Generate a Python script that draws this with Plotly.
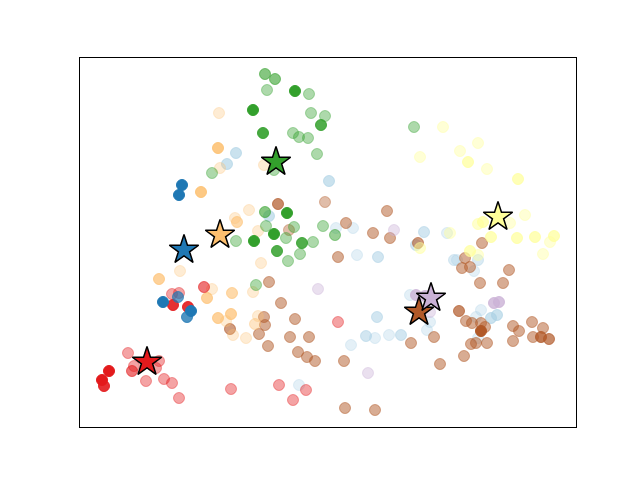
import plotly.graph_objects as go

# pixel-space data (x right, y down), per cluster: x, y, alpha
blue_x = [182, 179, 163, 178, 191, 187]
blue_y = [185, 195, 302, 297, 311, 317]
blue_a = [1, 1, 1, 0.7, 1, 0.8]

lblue_x = [236, 227, 329, 269, 336, 353, 424, 447, 416, 357, 378, 454, 457, 478, 474, 410, 481, 476, 491, 497, 478, 430, 427, 377, 366, 375, 389, 401, 351, 299]
lblue_y = [153, 164, 181, 216, 228, 228, 232, 233, 245, 255, 257, 260, 260, 260, 271, 295, 310, 317, 318, 315, 338, 322, 330, 317, 336, 338, 335, 335, 345, 385]
lblue_a = [0.6, 0.6, 0.6, 0.6, 0.3, 0.3, 0.5, 0.3, 0.5, 0.3, 0.5, 0.4, 0.3, 0.4, 0.3, 0.3, 0.3, 0.3, 0.6, 0.6, 0.3, 0.3, 0.3, 0.5, 0.5, 0.3, 0.3, 0.5, 0.3, 0.3]

green_x = [265, 275, 267, 295, 309, 253, 311, 325, 321, 263, 293, 299, 308, 317, 212, 274, 414, 265, 287, 266, 294, 323, 274, 236, 254, 286, 302, 313, 277, 300, 288, 256, 335]
green_y = [74, 79, 90, 91, 94, 110, 113, 116, 125, 133, 133, 137, 138, 154, 173, 170, 127, 212, 213, 226, 227, 226, 234, 241, 241, 238, 243, 242, 251, 254, 261, 285, 235]
green_a = [0.6, 0.6, 0.4, 1, 0.4, 1, 0.4, 0.4, 0.85, 0.9, 0.4, 0.4, 0.4, 0.4, 0.4, 0.4, 0.4, 0.6, 1, 0.4, 0.4, 0.4, 1, 0.4, 1, 0.4, 0.85, 0.4, 0.85, 0.4, 0.4, 0.4, 0.5]

red_x = [204, 172, 179, 173, 188, 128, 159, 134, 132, 156, 109, 102, 104, 146, 164, 172, 179, 338, 231, 279, 306, 293]
red_y = [287, 294, 293, 305, 307, 353, 361, 366, 371, 368, 371, 380, 386, 381, 379, 383, 398, 322, 389, 385, 390, 400]
red_a = [0.6, 0.4, 0.4, 0.9, 0.9, 0.4, 0.4, 0.4, 0.6, 0.4, 1, 1, 0.9, 0.4, 0.4, 0.4, 0.4, 0.4, 0.4, 0.4, 0.4, 0.4]

lorange_x = [219, 218, 220, 264, 201, 180, 159, 207, 212, 232, 253, 249, 235, 237, 258, 261, 218, 231, 226, 258, 255, 233, 246]
lorange_y = [113, 148, 168, 165, 192, 271, 279, 298, 289, 293, 292, 210, 218, 222, 231, 263, 318, 314, 321, 316, 324, 335, 338]
lorange_a = [0.3, 0.85, 0.3, 0.3, 0.85, 0.3, 0.7, 0.7, 0.3, 0.6, 0.3, 0.3, 0.3, 0.6, 0.3, 0.3, 0.7, 0.7, 0.3, 0.3, 0.4, 0.3, 0.3]

brown_x = [278, 325, 289, 269, 281, 264, 265, 295, 230, 259, 268, 290, 309, 298, 307, 315, 387, 346, 373, 390, 418, 338, 411, 434, 344, 440, 345, 375, 482, 465, 462, 470, 509, 480, 503, 459, 466, 472, 481, 485, 481, 471, 476, 487, 464, 513, 519, 513, 532, 543, 533, 541, 549]
brown_y = [204, 202, 230, 282, 303, 317, 325, 319, 329, 334, 346, 337, 337, 352, 357, 361, 211, 223, 233, 238, 243, 257, 343, 337, 361, 364, 408, 410, 243, 258, 268, 267, 270, 283, 283, 311, 321, 323, 323, 327, 331, 344, 343, 343, 356, 326, 331, 341, 322, 328, 337, 337, 339]
brown_a = [0.7, 0.4, 0.4, 0.5, 0.5, 0.5, 0.5, 0.5, 0.6, 0.5, 0.5, 0.5, 0.5, 0.5, 0.5, 0.5, 0.5, 0.5, 0.5, 0.5, 0.6, 0.5, 0.5, 0.5, 0.5, 0.5, 0.5, 0.5, 0.5, 0.5, 0.5, 0.5, 0.5, 0.5, 0.5, 0.7, 0.5, 0.5, 0.5, 0.5, 1, 0.5, 0.5, 0.5, 0.5, 0.5, 0.5, 0.5, 0.5, 0.5, 0.5, 0.8, 0.7]

yellow_x = [443, 420, 460, 478, 468, 487, 518, 478, 483, 510, 525, 450, 491, 517, 535, 554, 550, 543, 470, 478, 420]
yellow_y = [127, 157, 151, 143, 162, 169, 179, 224, 222, 223, 215, 233, 237, 238, 237, 236, 242, 254, 251, 255, 248]
yellow_a = [0.4, 0.4, 0.4, 0.4, 0.7, 0.4, 0.7, 0.5, 0.7, 0.4, 0.4, 0.4, 0.7, 0.7, 0.7, 0.7, 0.4, 0.4, 0.7, 0.4, 0.5]

lpurple_x = [394, 318, 368, 416, 425, 494, 499, 430]
lpurple_y = [230, 289, 373, 295, 296, 303, 302, 312]
lpurple_a = [0.4, 0.4, 0.4, 0.8, 0.8, 0.8, 0.8, 0.4]

# cluster centres
center_names = ["blue", "lorange", "green", "red", "yellow", "brown", "lpurple"]
center_x = [184, 220, 276, 147, 498, 419, 431]
center_y = [250, 235, 162, 362, 217, 312, 298]

colors = {
    "blue": (31, 120, 180),
    "lblue": (166, 206, 227),
    "green": (51, 160, 44),
    "red": (227, 26, 28),
    "lorange": (253, 191, 111),
    "brown": (177, 89, 40),
    "yellow": (255, 255, 153),
    "lpurple": (202, 178, 214),
}

def rgba(c, a):
    return f"rgba({c[0]},{c[1]},{c[2]},{a})"

fig = go.Figure()
series = [
    ("lblue", lblue_x, lblue_y, lblue_a),
    ("brown", brown_x, brown_y, brown_a),
    ("yellow", yellow_x, yellow_y, yellow_a),
    ("lpurple", lpurple_x, lpurple_y, lpurple_a),
    ("lorange", lorange_x, lorange_y, lorange_a),
    ("green", green_x, green_y, green_a),
    ("red", red_x, red_y, red_a),
    ("blue", blue_x, blue_y, blue_a),
]
for name, xs, ys, al in series:
    c = colors[name]
    fig.add_trace(go.Scatter(
        x=xs, y=ys, mode="markers", showlegend=False,
        marker=dict(size=11, color=[rgba(c, a) for a in al],
                    line=dict(width=1, color=[rgba(c, a) for a in al])),
    ))

fig.add_trace(go.Scatter(
    x=center_x, y=center_y, mode="markers", showlegend=False,
    marker=dict(symbol="star", size=22,
                color=[rgba(colors[n], 1) for n in center_names],
                line=dict(width=1.5, color="black")),
))

axis = dict(showticklabels=False, ticks="", showgrid=False, zeroline=False,
            showline=True, mirror=True, linecolor="black", linewidth=1)
# page body has an 8px margin, so the figure is sized/offset to compensate
fig.update_layout(
    width=632, height=472,
    margin=dict(l=72, r=64, t=50, b=53),
    paper_bgcolor="white", plot_bgcolor="white",
    xaxis=dict(range=[80, 576], **axis),
    yaxis=dict(range=[427, 58], **axis),
)
fig.write_html("out.html")
